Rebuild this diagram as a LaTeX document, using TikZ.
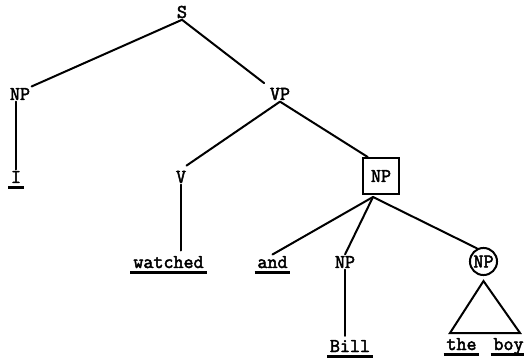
\documentclass[tikz,border=0pt]{standalone}
\usepackage{fontspec}
\newfontfamily\twfont{Latin Modern Mono}[FakeBold=2.5]
\begin{document}
\begin{tikzpicture}[x=0.75pt,y=-0.75pt,
  every node/.style={font=\fontsize{14.6}{17}\selectfont\twfont, inner sep=1pt},
  edge/.style={line width=1.5pt, line cap=round},
  uline/.style={line width=2.2pt, shorten <=-1pt, shorten >=-1pt},
  word/.style={anchor=base},
  boxed/.style={draw, line width=1.5pt, minimum size=27pt, inner sep=0pt},
  ringed/.style={draw, circle, line width=1.5pt, minimum size=20.3pt, inner sep=0.5pt}]
\useasboundingbox (0,0) rectangle (524,359);
% category labels
\node (s) at (182,12) {S};
\node (np1) at (20,94) {NP};
\node (vp) at (280,94) {VP};
\node (v) at (181,177) {V};
\node[boxed] (box) at (381,176) {NP};
\node[word] (np2) at (345,268) {NP};
\node[ringed] (c) at (483.5,261.5) {NP};
% words
\node[word] (i) at (16,183) {I};
\node[word] (watched) at (168.5,268) {watched};
\node[word] (and) at (272.5,268) {and};
\node[word] (bill) at (350,352) {Bill};
\node[word] (the) at (461.5,350) {the};
\node[word] (boy) at (508.5,350) {boy};
\foreach \w in {i,watched,and,bill,the,boy}
  \draw[uline] ([yshift=-3.5pt]\w.base west) -- ([yshift=-3.5pt]\w.base east);
% connectors
\draw[edge] (s.south) -- (np1.north east);
\draw[edge, shorten >=4pt] (s.south) -- (vp.north west);
\draw[edge] (i.north |- np1.south) -- (i.north);
\draw[edge, shorten >=5pt] (vp.south) -- (v.north);
\draw[edge] (vp.south) -- (box.125);
\draw[edge, shorten >=3pt] (v.south) -- (v.south |- watched.north);
\coordinate (bf) at (373,197);
\draw[edge] (bf) -- (and.north);
\draw[edge] (bf) -- (np2.north);
\draw[edge] (bf) -- (c.116);
\draw[edge, shorten >=2pt] (np2.south) -- (np2.south |- bill.north);
% triangle
\coordinate (ta) at ([yshift=-3.75pt]c.south);
\coordinate (tl) at (450,333);
\coordinate (tr) at (520,333);
\draw[edge, line join=miter] (ta) -- (tl) -- (tr) -- cycle;
\end{tikzpicture}
\end{document}
